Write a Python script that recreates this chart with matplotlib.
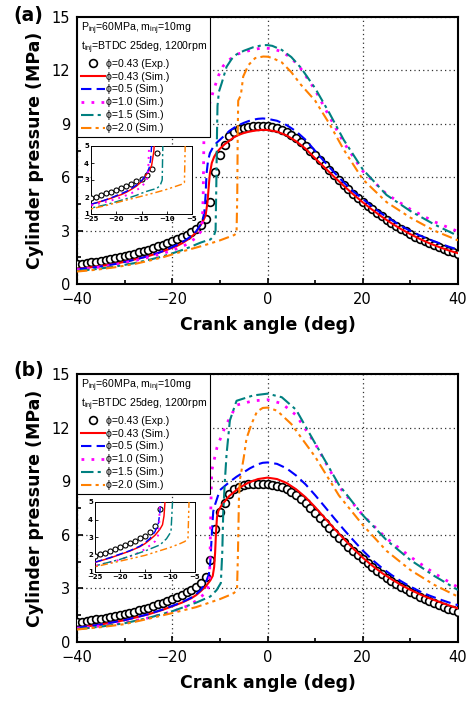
import matplotlib
matplotlib.use('Agg')
import matplotlib.pyplot as plt
from matplotlib.ticker import MultipleLocator
from matplotlib.font_manager import FontProperties

plt.rcParams['font.family'] = ['DejaVu Sans']
plt.rcParams['mathtext.fontset'] = 'custom'
plt.rcParams['mathtext.rm'] = 'Liberation Sans'
plt.rcParams['mathtext.it'] = 'Liberation Sans:italic'

# ---------------- data ----------------
EXP_X = list(range(-40, 41))
EXP_P = [1.1, 1.14, 1.18, 1.22, 1.26, 1.3, 1.35, 1.4, 1.45, 1.51,
         1.57, 1.63, 1.7, 1.77, 1.85, 1.93, 2.02, 2.11, 2.21, 2.31,
         2.42, 2.53, 2.65, 2.78, 2.92, 3.08, 3.3, 3.65, 4.58, 6.3,
         7.25, 7.8, 8.3, 8.55, 8.7, 8.78, 8.82, 8.85, 8.86, 8.86,
         8.85, 8.81, 8.75, 8.66, 8.54, 8.39, 8.21, 8.0, 7.76, 7.5,
         7.22, 6.94, 6.66, 6.38, 6.1, 5.83, 5.57, 5.32, 5.08, 4.85,
         4.63, 4.41, 4.2, 4.0, 3.8, 3.61, 3.43, 3.26, 3.1, 2.95,
         2.8, 2.66, 2.53, 2.41, 2.29, 2.18, 2.07, 1.97, 1.87, 1.78, 1.7]

# panel (a)
A_RED_X = [-40, -37, -34, -31, -28, -25, -23, -21, -20, -19, -18, -17, -16, -15, -14,
           -13.5, -13, -12.6, -12.3, -12.1, -11.7, -11.2, -10.7, -10, -9, -8, -7, -6, -5, -4,
           -3, -2, -1, 0, 2, 4, 6, 8, 10, 12, 14, 16, 18, 20, 22, 24, 26, 28, 30, 32, 34, 36, 38, 40]
A_RED_P = [0.85, 0.94, 1.05, 1.19, 1.37, 1.57, 1.74, 1.93, 2.04, 2.14, 2.28, 2.45, 2.64, 2.9, 3.33,
           3.55, 3.85, 4.6, 5.6, 6.2, 6.8, 7.15, 7.37, 7.6, 7.85, 8.05, 8.25, 8.38, 8.48, 8.55,
           8.6, 8.64, 8.66, 8.65, 8.56, 8.35, 8.02, 7.6, 7.06, 6.54, 6.02, 5.52, 5.04, 4.59, 4.17,
           3.78, 3.42, 3.09, 2.8, 2.53, 2.29, 2.08, 1.89, 1.73]
A_BLUE_X = [-40, -36, -32, -28, -25, -23, -21, -20, -19, -18, -17, -16, -15, -14, -13.5,
            -13.2, -13, -12.8, -12.5, -12.1, -11.5, -10.7, -10, -9, -8, -7, -6, -5, -4, -3,
            -2, -1, 0, 2, 4, 6, 8, 10, 12, 14, 16, 18, 20, 22, 24, 26, 28, 30, 32, 34, 36, 38, 40]
A_BLUE_P = [0.83, 0.95, 1.12, 1.36, 1.57, 1.74, 1.95, 2.08, 2.2, 2.33, 2.5, 2.7, 2.95, 3.35, 3.7,
            4.2, 5.0, 6.2, 6.9, 7.35, 7.65, 7.93, 8.1, 8.35, 8.6, 8.78, 8.93, 9.05, 9.15, 9.23,
            9.28, 9.3, 9.28, 9.17, 8.93, 8.58, 8.1, 7.48, 6.86, 6.27, 5.71, 5.2, 4.78, 4.35, 3.95,
            3.6, 3.27, 2.98, 2.72, 2.5, 2.3, 2.1, 1.93]
A_MAG_X = [-40, -36, -32, -28, -25, -22, -20, -18, -17, -16, -15, -14, -13.7, -13.5, -13.35,
           -13.0, -12.3, -11.3, -10.3, -9.3, -8, -6.5, -4, -2, -0.5, 1, 3, 5, 7, 10,
           13, 16, 20, 25, 30, 35, 40]
A_MAG_P = [0.8, 0.92, 1.08, 1.3, 1.5, 1.72, 1.88, 2.1, 2.22, 2.4, 2.6, 2.95, 3.3, 5.0, 8.3,
           9.3, 10.0, 10.9, 11.7, 12.25, 12.6, 12.9, 13.1, 13.22, 13.25, 13.22, 13.05, 12.7, 12.1, 10.9,
           9.4, 7.95, 6.34, 5.05, 4.2, 3.5, 2.95]
A_TEAL_X = [-40, -36, -32, -28, -25, -22, -20, -18, -16, -15, -14, -13, -12, -11.3, -10.9,
            -10.75, -10.6, -10.5, -10.2, -9.6, -8.6, -7.5, -6.5, -5, -3, -1, 0, 1, 3, 5,
            7, 10, 13, 16, 20, 25, 30, 35, 40]
A_TEAL_P = [0.73, 0.84, 0.98, 1.17, 1.35, 1.55, 1.72, 1.9, 2.1, 2.22, 2.33, 2.42, 2.5, 2.68, 3.0,
            5.5, 8.5, 10.0, 10.8, 11.3, 12.2, 12.65, 12.9, 13.1, 13.3, 13.42, 13.42, 13.38, 13.15, 12.75,
            12.15, 11.0, 9.6, 8.1, 6.44, 5.0, 4.1, 3.35, 2.7]
A_ORG_X = [-40, -36, -32, -28, -25, -22, -20, -18, -16, -14, -12, -10, -8, -7, -6.5,
           -6.35, -6.25, -6.15, -5.6, -5.1, -4, -2.6, -0.9, 0, 1, 3, 5, 7, 10, 13,
           16, 20, 25, 30, 35, 40]
A_ORG_P = [0.7, 0.8, 0.94, 1.12, 1.3, 1.5, 1.66, 1.82, 1.97, 2.12, 2.28, 2.45, 2.65, 2.75, 2.85,
           5.0, 8.5, 10.3, 10.6, 11.66, 12.3, 12.69, 12.78, 12.77, 12.7, 12.45, 11.9, 11.2, 10.3, 9.0,
           7.55, 5.88, 4.6, 3.73, 3.0, 2.45]

# panel (b)
B_RED_X = [-40, -35, -30, -25, -22, -20, -18, -16, -15, -14, -13, -12, -11.5, -11.2, -11.0,
           -10.8, -10.6, -10.3, -9.6, -8, -6, -4, -2, 0, 2, 4, 6, 8, 10, 12,
           14, 16, 18, 20, 22, 24, 26, 28, 30, 32, 34, 36, 38, 40]
B_RED_P = [0.8, 0.98, 1.22, 1.55, 1.8, 2.0, 2.2, 2.45, 2.62, 2.85, 3.1, 3.45, 3.7, 4.2, 5.0,
           6.2, 7.0, 7.35, 7.67, 8.18, 8.62, 8.92, 9.12, 9.2, 9.12, 8.9, 8.55, 8.1, 7.55, 6.95,
           6.35, 5.78, 5.23, 4.72, 4.27, 3.87, 3.52, 3.2, 2.92, 2.67, 2.45, 2.25, 2.06, 1.88]
B_BLUE_X = [-40, -35, -30, -25, -22, -20, -18, -16, -15, -14, -13, -12.3, -12.0, -11.7, -11.4,
            -11, -10, -8, -6.5, -5, -3.7, -2, -1, 0, 2, 4, 6, 8, 10, 12,
            14, 16, 18, 20, 22, 24, 26, 28, 30, 32, 34, 36, 38, 40]
B_BLUE_P = [0.8, 0.98, 1.22, 1.56, 1.82, 2.02, 2.22, 2.48, 2.67, 2.92, 3.3, 3.8, 4.5, 6.0, 7.3,
            7.7, 8.5, 8.95, 9.25, 9.5, 9.72, 9.95, 10.03, 10.05, 9.97, 9.72, 9.32, 8.82, 8.22, 7.58,
            6.93, 6.3, 5.7, 5.12, 4.6, 4.15, 3.76, 3.41, 3.1, 2.83, 2.6, 2.4, 2.22, 2.06]
B_MAG_X = [-40, -35, -30, -25, -20, -17, -15, -13, -12.2, -12.05, -11.9, -11.7, -10.6, -8.9, -6.5,
           -3, 0, 3, 6, 10, 15, 20, 25, 30, 35, 40]
B_MAG_P = [0.75, 0.9, 1.08, 1.35, 1.7, 2.0, 2.3, 2.75, 3.2, 5.0, 7.5, 9.6, 10.9, 12.05, 13.26,
           13.5, 13.56, 13.35, 12.7, 11.1, 8.7, 7.1, 5.8, 4.77, 3.85, 3.06]
B_TEAL_X = [-40, -35, -30, -25, -20, -15, -12, -10.7, -9.8, -9.5, -9.3, -9.0, -8.6, -7.9, -6.5,
            -3, 0, 3, 6, 10, 15, 20, 25, 30, 35, 40]
B_TEAL_P = [0.72, 0.86, 1.05, 1.35, 1.72, 2.2, 2.55, 2.9, 3.3, 5.0, 7.2, 8.8, 10.5, 12.4, 13.5,
            13.8, 13.9, 13.7, 13.0, 11.12, 8.8, 7.1, 5.7, 4.59, 3.7, 2.91]
B_ORG_X = [-40, -35, -30, -25, -20, -15, -10, -8, -7, -6.4, -6.2, -6.0, -5.8, -5, -4.4,
           -3.3, -2.2, -1, 0, 2, 5, 10, 15, 20, 25, 30, 35, 40]
B_ORG_P = [0.7, 0.83, 1.0, 1.3, 1.62, 1.95, 2.4, 2.62, 2.75, 2.95, 5.0, 8.0, 9.07, 10.3, 11.4,
           12.24, 12.9, 13.1, 13.12, 12.95, 12.2, 10.37, 8.2, 6.55, 5.1, 4.03, 3.2, 2.54]

LABELS = ['\u03d5=0.43 (Sim.)', '\u03d5=0.5 (Sim.)', '\u03d5=1.0 (Sim.)',
          '\u03d5=1.5 (Sim.)', '\u03d5=2.0 (Sim.)']
EXP_LABEL = '\u03d5=0.43 (Exp.)'
LEGEND_TITLE = ('P$_{\\mathrm{inj}}$=60MPa, m$_{\\mathrm{inj}}$=10mg\n'
                't$_{\\mathrm{inj}}$=BTDC 25deg, 1200rpm')

COLORS = ['#ff0000', '#0000ff', '#ff00ff', '#008080', '#ff8000']
STYLES = ['-', (0, (5, 2.5)), (0, (1, 2.6)), (0, (6, 2, 1.5, 2)), (0, (5, 2, 1.5, 2, 1.5, 2))]
WIDTHS = [1.5, 1.5, 2.0, 1.5, 1.5]

fig = plt.figure(figsize=(4.72, 7.02), dpi=100)
W, H = 472.0, 702.0


def rect(x0, y0, x1, y1):
    return [x0 / W, 1 - y1 / H, (x1 - x0) / W, (y1 - y0) / H]


leg_font = FontProperties(family=['Liberation Sans', 'DejaVu Sans'], size=7.6)


def panel(main_px, inset_px, sims, tag, tag_y):
    ax = fig.add_axes(rect(*main_px))
    handles = []
    h = ax.plot(EXP_X, EXP_P, 'o', ms=5.6, mfc='white', mec='black', mew=1.2,
                label=EXP_LABEL, zorder=3)[0]
    handles.append(h)
    for (x, p), c, ls, lw, lab in zip(sims, COLORS, STYLES, WIDTHS, LABELS):
        h = ax.plot(x, p, color=c, ls=ls, lw=lw, label=lab, zorder=4)[0]
        handles.append(h)
    ax.set_xlim(-40, 40)
    ax.set_ylim(0, 15)
    ax.xaxis.set_major_locator(MultipleLocator(20))
    ax.xaxis.set_minor_locator(MultipleLocator(10))
    ax.yaxis.set_major_locator(MultipleLocator(3))
    ax.yaxis.set_minor_locator(MultipleLocator(1.5))
    ax.tick_params(which='both', direction='in', top=False, right=False)
    ax.tick_params(which='major', length=4, width=1.2, labelsize=10.5)
    ax.tick_params(axis='x', which='major', pad=6)
    ax.tick_params(axis='y', which='major', pad=5)
    ax.tick_params(which='minor', length=3, width=1.2)
    ax.grid(True, which='major', ls=(0, (1, 2.5)), color='#333333', lw=0.9)
    for s in ax.spines.values():
        s.set_linewidth(1.5)
    ax.set_xlabel('Crank angle (deg)', fontsize=12.5, fontweight='bold', labelpad=6)
    ax.set_ylabel('Cylinder pressure (MPa)', fontsize=12.5, fontweight='bold', labelpad=5)
    leg = ax.legend(handles=handles, loc='upper left', title=LEGEND_TITLE, alignment='left',
                    prop=leg_font, title_fontproperties=leg_font, frameon=True, fancybox=False,
                    edgecolor='black', framealpha=1, borderaxespad=0, borderpad=0.35,
                    labelspacing=0.28, handlelength=2.3, handletextpad=0.1)
    leg.get_frame().set_linewidth(0.8)
    leg.set_zorder(10)
    fig.text(13 / W, 1 - tag_y / H, tag, fontsize=13.5, fontweight='bold', va='center', ha='left')

    ai = fig.add_axes(rect(*inset_px))
    ai.plot(EXP_X, EXP_P, 'o', ms=3.6, mfc='white', mec='black', mew=0.8, zorder=3)
    for (x, p), c, ls, lw in zip(sims, COLORS, STYLES, WIDTHS):
        ai.plot(x, p, color=c, ls=ls, lw=lw * 0.7, zorder=4)
    ai.set_xlim(-25, -5)
    ai.set_ylim(1, 5)
    ai.set_xticks([-25, -20, -15, -10, -5])
    ai.set_yticks([1, 2, 3, 4, 5])
    ai.tick_params(direction='in', length=2, width=0.6, labelsize=5, pad=1.5)
    for lab in ai.get_xticklabels() + ai.get_yticklabels():
        lab.set_fontweight('bold')
    for s in ai.spines.values():
        s.set_linewidth(0.7)
    return ax


panel((77, 17, 458, 284), (91, 146, 192, 214),
      [(A_RED_X, A_RED_P), (A_BLUE_X, A_BLUE_P), (A_MAG_X, A_MAG_P),
       (A_TEAL_X, A_TEAL_P), (A_ORG_X, A_ORG_P)], '(a)', 15)
panel((77, 374, 458, 642), (95, 502, 195, 572),
      [(B_RED_X, B_RED_P), (B_BLUE_X, B_BLUE_P), (B_MAG_X, B_MAG_P),
       (B_TEAL_X, B_TEAL_P), (B_ORG_X, B_ORG_P)], '(b)', 370)

fig.savefig('out.png', dpi=100)
